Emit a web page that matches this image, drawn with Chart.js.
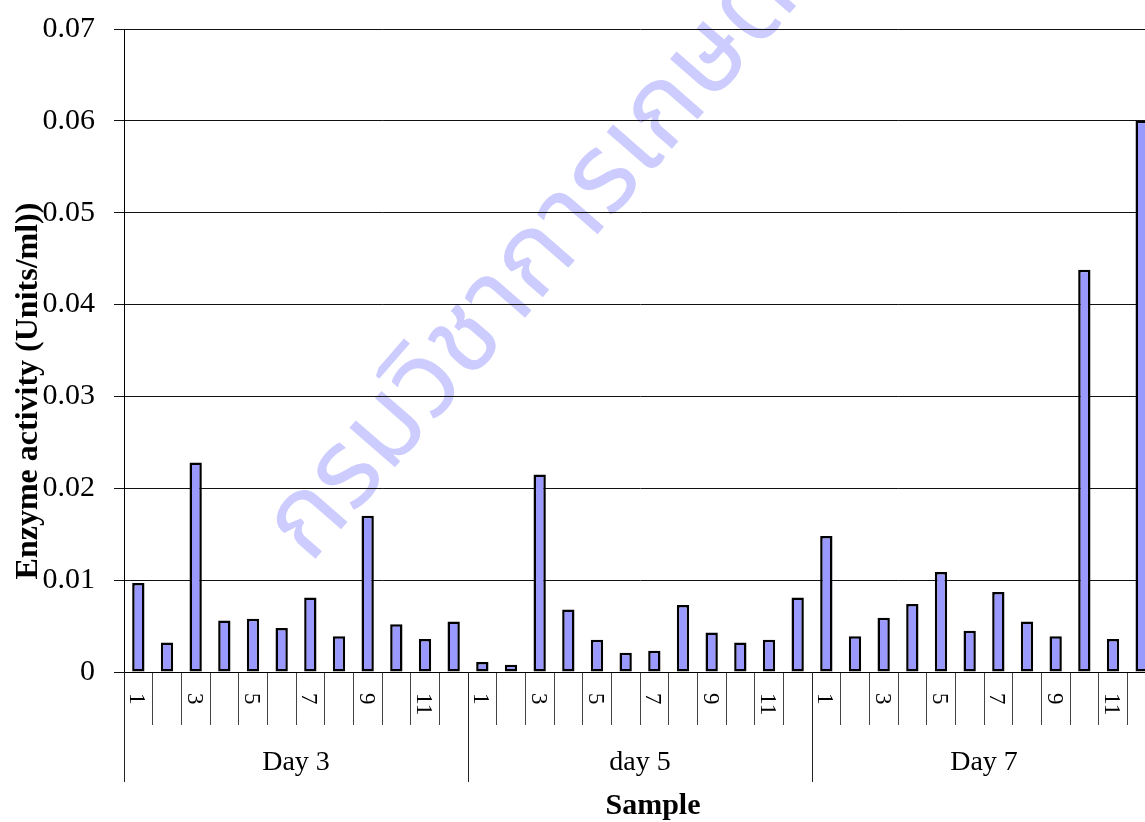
<!DOCTYPE html>
<html>
<head>
<meta charset="utf-8">
<script src="https://cdn.jsdelivr.net/npm/chart.js@4.4.1/dist/chart.umd.min.js"></script>
<style>
html, body { margin: 0; padding: 0; background: #fff; overflow: hidden; }
#wrap { width: 1145px; height: 822px; overflow: hidden; }
</style>
</head>
<body>
<div id="wrap"><canvas id="enzymeChart" width="1170" height="822"></canvas></div>
<script>
// sample numbers inside each day
const samples = ['1','2','3','4','5','6','7','8','9','10','11','12'];
const groups = ['Day 3', 'day 5', 'Day 7'];

// enzyme activity (Units/ml)
const day3 = [0.0097, 0.0032, 0.0228, 0.0056, 0.0058, 0.0048, 0.0081, 0.0039, 0.0170, 0.0052, 0.0036, 0.0055];
const day5 = [0.0011, 0.0008, 0.0215, 0.0068, 0.0035, 0.0021, 0.0023, 0.0073, 0.0043, 0.0032, 0.0035, 0.0081];
const day7 = [0.0148, 0.0039, 0.0059, 0.0074, 0.0109, 0.0045, 0.0087, 0.0055, 0.0039, 0.0438, 0.0036, 0.0600];

const yMax = 0.07;
const yStep = 0.01;

const yTitle = 'Enzyme activity (Units/ml))';
const xTitle = 'Sample';
const watermark = 'กรมวิชาการเกษตร';

const labels = [];
groups.forEach(() => samples.forEach(s => labels.push(s)));
const values = day3.concat(day5, day7);

const serif = '"Liberation Serif", "Times New Roman", serif';

const axisText = {
    id: 'axisText',
    beforeDraw(chart) {
        // faint stamp behind the chart
        const ctx = chart.ctx;
        ctx.save();
        ctx.translate(310, 565);
        ctx.rotate(-49 * Math.PI / 180);
        ctx.font = '110px "Noto Sans Thai", "Loma", "Garuda", "Norasi", "DejaVu Sans", sans-serif';
        ctx.fillStyle = '#ccccff';
        ctx.textAlign = 'left';
        ctx.textBaseline = 'alphabetic';
        ctx.fillText(watermark, 0, 0);
        ctx.restore();
    },
    afterDraw(chart) {
        const ctx = chart.ctx;
        const x = chart.scales.x;
        const area = chart.chartArea;
        ctx.save();
        ctx.fillStyle = '#000';

        // sample numbers, every other one, turned a quarter clockwise
        ctx.font = '23px ' + serif;
        ctx.textAlign = 'left';
        ctx.textBaseline = 'middle';
        labels.forEach((lab, i) => {
            if ((i % samples.length) % 2 !== 0) return;
            const px = x.getPixelForValue(i);
            ctx.save();
            ctx.translate(px - 2, area.bottom + 21);
            ctx.rotate(Math.PI / 2);
            ctx.fillText(lab, 0, 0);
            ctx.restore();
        });

        // day separators and day names
        ctx.strokeStyle = '#222';
        ctx.lineWidth = 1;
        groups.forEach((g, gi) => {
            const left = x.getPixelForValue(gi * samples.length - 0.5);
            const right = x.getPixelForValue((gi + 1) * samples.length - 0.5);
            ctx.beginPath();
            ctx.moveTo(Math.round(left) + 0.5, area.bottom);
            ctx.lineTo(Math.round(left) + 0.5, area.bottom + 110);
            ctx.stroke();
            ctx.font = '28px ' + serif;
            ctx.textAlign = 'center';
            ctx.fillText(g, (left + right) / 2, area.bottom + 91);
        });

        // axis titles
        ctx.font = 'bold 30px ' + serif;
        ctx.textAlign = 'center';
        ctx.fillText(xTitle, 653, 806);

        ctx.save();
        ctx.translate(29, 391);
        ctx.rotate(-Math.PI / 2);
        ctx.font = 'bold 32px ' + serif;
        ctx.fillText(yTitle, 0, 0);
        ctx.restore();

        ctx.restore();
    }
};

new Chart(document.getElementById('enzymeChart'), {
    type: 'bar',
    data: {
        labels: labels,
        datasets: [{
            label: 'Enzyme activity',
            data: values,
            backgroundColor: '#9999ff',
            borderColor: '#000',
            borderWidth: 2.5,
            borderSkipped: false,
            categoryPercentage: 1,
            barPercentage: 0.43
        }]
    },
    options: {
        responsive: false,
        animation: false,
        devicePixelRatio: 1,
        layout: { padding: { left: 0, top: 29, right: 14, bottom: 0 } },
        plugins: {
            legend: { display: false },
            tooltip: { enabled: false },
            title: { display: false }
        },
        scales: {
            x: {
                type: 'category',
                offset: true,
                grid: {
                    offset: true,
                    drawOnChartArea: false,
                    drawTicks: true,
                    tickLength: 53,
                    color: '#444',
                    lineWidth: 1
                },
                border: { display: true, color: '#000', width: 1 },
                ticks: { display: false },
                afterFit(scale) { scale.height = 150; }
            },
            y: {
                min: 0,
                max: yMax,
                grid: {
                    color: '#111',
                    lineWidth: 1,
                    drawTicks: true,
                    tickLength: 10
                },
                border: { display: true, color: '#000', width: 1 },
                ticks: {
                    stepSize: yStep,
                    padding: 19,
                    color: '#000',
                    font: { family: serif, size: 30 },
                    callback: v => (v === 0 ? '0' : v.toFixed(2))
                },
                afterFit(scale) {
                    scale.width = 124;
                    scale.paddingTop = 0;
                    scale.paddingBottom = 0;
                }
            }
        }
    },
    plugins: [axisText]
});
</script>
</body>
</html>
